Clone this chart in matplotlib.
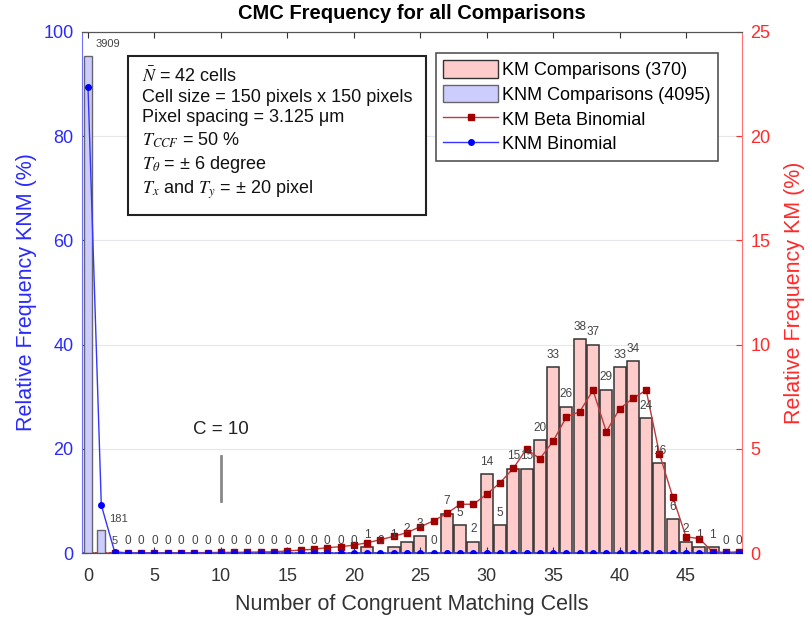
import numpy as np
import matplotlib.pyplot as plt
from matplotlib.patches import Patch
from matplotlib.lines import Line2D

plt.rcParams['font.family'] = ['Liberation Sans', 'DejaVu Sans']
plt.rcParams['mathtext.fontset'] = 'stix'

# CMC counts per bin (0..49)
cells = np.arange(50)
km_counts = [0, 0, 0, 0, 0, 0, 0, 0, 0, 0,
             0, 0, 0, 0, 0, 0, 0, 0, 0, 0,
             0, 1, 0, 1, 2, 3, 0, 7, 5, 2,
             14, 5, 15, 15, 20, 33, 26, 38, 37, 29,
             33, 34, 24, 16, 6, 2, 1, 1, 0, 0]
knm_counts = [3909, 181, 5] + [0] * 47

# fitted distributions (%)
km_beta_binomial = [0.0, 0.0, 0.0, 0.0, 0.0, 0.01, 0.01, 0.01, 0.02, 0.02,
                    0.03, 0.03, 0.04, 0.05, 0.06, 0.10, 0.14, 0.18, 0.26, 0.30,
                    0.38, 0.49, 0.64, 0.80, 0.98, 1.26, 1.54, 1.90, 2.34, 2.34,
                    2.82, 3.37, 4.06, 5.00, 4.52, 5.37, 6.53, 6.78, 7.81, 5.82,
                    6.92, 7.42, 7.81, 4.76, 2.69, 0.78, 0.69, 0.06, 0.03, 0.06]
knm_binomial = [89.4, 9.2, 0.25] + [0.0] * 47

info_lines = [r'$\bar{N}$ = 42 cells',
              'Cell size = 150 pixels x 150 pixels',
              'Pixel spacing = 3.125 μm',
              r'$T_{CCF}$ = 50 %',
              r'$T_{\theta}$ = ± 6 degree',
              r'$T_x$ and $T_y$ = ± 20 pixel']

km_pct = np.array(km_counts) / sum(km_counts) * 100
knm_pct = np.array(knm_counts) / sum(knm_counts) * 100

fig = plt.figure(figsize=(8.09, 6.27), dpi=100)
ax = fig.add_axes([0.1014, 0.118, 0.8156, 0.831])
ax2 = ax.twinx()
# left axis content on top of the KM bars
ax.set_zorder(ax2.get_zorder() + 1)
ax.patch.set_visible(False)

blue = '#2a2aff'
red = '#ff2a2a'
km_face, km_edge = '#ffcccc', '#333333'
knm_face, knm_edge = '#ccccff', '#666666'
km_line, km_mark = '#c03a3a', '#a00000'
knm_line, knm_mark = '#3535ff', '#0000ff'

ax2.bar(cells, km_pct, width=0.9, color=km_face, edgecolor=km_edge,
        linewidth=1.1, zorder=2)
ax2.plot(cells, km_beta_binomial, '-s', color=km_line, lw=1, markersize=5,
         markerfacecolor=km_mark, markeredgecolor=km_mark, zorder=3)

ax.bar(cells, knm_pct, width=0.6, color=knm_face, edgecolor=knm_edge,
       linewidth=1, zorder=2)
ax.plot(cells, knm_binomial, '-o', color=knm_line, lw=1, markersize=4,
        markerfacecolor=knm_mark, markeredgecolor=knm_mark, zorder=3)

# count labels above bars
for i in cells:
    if knm_counts[i] > 0:
        if knm_counts[i] >= 100:
            ax.text(i + 0.55, knm_pct[i] + 1.2, str(knm_counts[i]),
                    ha='left', va='bottom', fontsize=8, color='#444444')
        else:
            ax.text(i, knm_pct[i] + 1.2, str(knm_counts[i]),
                    ha='center', va='bottom', fontsize=8, color='#444444')
    else:
        ax2.text(i, km_pct[i] + 0.3, str(km_counts[i]),
                 ha='center', va='bottom', fontsize=8.5, color='#444444', zorder=4)

# threshold marker
ax.plot([10, 10], [10, 18.7], color='#888888', lw=2)
ax.text(10, 23.8, 'C = 10', ha='center', va='center', fontsize=13.5, color='#222222')

ax.set_xlim(-0.45, 49.2)
ax.set_ylim(0, 100)
ax2.set_ylim(0, 25)
ax.set_xticks(np.arange(0, 50, 5))
ax.set_yticks(np.arange(0, 101, 20))
ax2.set_yticks(np.arange(0, 26, 5))

ax2.grid(True, color='#e6e6ee', lw=0.8)
ax2.set_axisbelow(True)
ax2.xaxis.grid(True)

ax.tick_params(axis='x', direction='in', top=True, labelsize=13, colors='#333333',
               length=4, pad=11)
ax.tick_params(axis='y', direction='in', labelsize=13, colors=blue, length=4, pad=6)
ax2.tick_params(axis='y', direction='in', labelsize=13, colors=red, length=4, pad=6)

for s in ['top', 'bottom']:
    ax.spines[s].set_color('#555555')
ax.spines['left'].set_color('#7070ff')
ax.spines['right'].set_visible(False)
ax2.spines['left'].set_visible(False)
ax2.spines['right'].set_color('#ff7070')
ax2.spines['top'].set_color('#555555')
ax2.spines['bottom'].set_color('#555555')

ax.set_xlabel('Number of Congruent Matching Cells', fontsize=15.5, color='#333333',
              labelpad=6)
ax.set_ylabel('Relative Frequency KNM (%)', fontsize=15.5, color=blue, labelpad=5)
ax2.set_ylabel('Relative Frequency KM (%)', fontsize=15.5, color=red, labelpad=10)
ax.set_title('CMC Frequency for all Comparisons', fontsize=14.5, fontweight='bold',
             pad=9)

ax.text(0.0909, 0.934, '\n'.join(info_lines), transform=ax.transAxes,
        ha='left', va='top', fontsize=13, linespacing=1.26, color='#111111',
        bbox=dict(boxstyle='square,pad=0.75', facecolor='white',
                  edgecolor='#222222', linewidth=1.5))

handles = [Patch(facecolor=km_face, edgecolor=km_edge),
           Patch(facecolor=knm_face, edgecolor=knm_edge),
           Line2D([], [], color=km_line, lw=1, marker='s', markersize=5,
                  markerfacecolor=km_mark, markeredgecolor=km_mark),
           Line2D([], [], color=knm_line, lw=1, marker='o', markersize=4,
                  markerfacecolor=knm_mark, markeredgecolor=knm_mark)]
labels = ['KM Comparisons (%d)' % sum(km_counts),
          'KNM Comparisons (%d)' % sum(knm_counts),
          'KM Beta Binomial', 'KNM Binomial']
leg = ax.legend(handles, labels, loc='upper right', bbox_to_anchor=(0.9636, 0.9597),
                borderaxespad=0, fontsize=13, fancybox=False, edgecolor='#555555',
                framealpha=1, handlelength=3.0, handleheight=1.1, handletextpad=0.25,
                borderpad=0.4, labelspacing=0.33)
leg.get_frame().set_linewidth(1.2)

fig.savefig('out.png', dpi=100)
